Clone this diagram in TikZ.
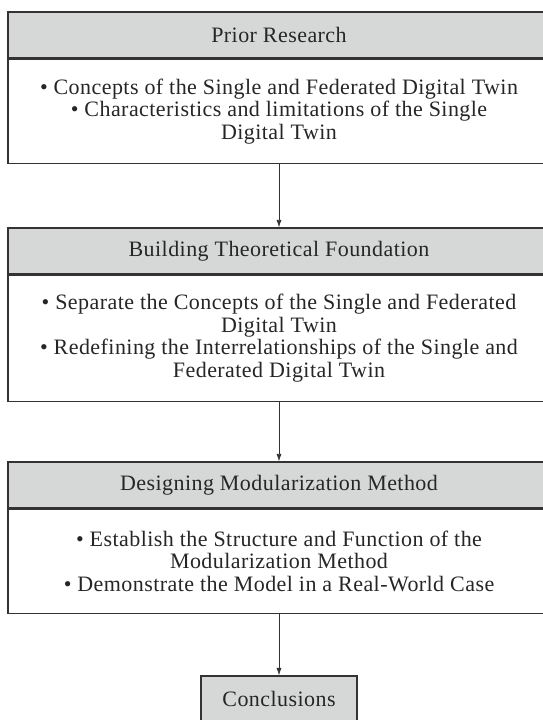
\documentclass[tikz,border=0pt]{standalone}
\usepackage{fontspec}
\setmainfont{Liberation Serif}[LetterSpace=2]
\usetikzlibrary{arrows.meta,positioning}
\definecolor{ink}{HTML}{262626}
\definecolor{frame}{HTML}{333333}
\definecolor{headFill}{HTML}{D6D8D8}
\tikzset{
  base/.style={font=\fontsize{22}{22.5}\selectfont, text=ink},
  head/.style={base, draw=frame, line width=1.3pt, fill=headFill, minimum width=542pt, minimum height=46pt, inner sep=0pt},
  body/.style={base, draw=frame, line width=1.3pt, fill=white, minimum width=542pt, align=center, inner sep=0pt},
  arrow/.style={-{Latex[length=2.6mm,width=1.8mm]}, line width=0.8pt, draw=frame},
}

\begin{document}
\begin{tikzpicture}[x=1pt,y=1pt]
  \useasboundingbox (0,0) rectangle (543,720);

  \node[head] (prior) at (279,685) {Prior Research};
  \node[body,minimum height=104pt,below=0pt of prior] (priorbody) {\textbullet\ Concepts of the Single and Federated Digital Twin\\\textbullet\ Characteristics and limitations of the Single\\Digital Twin};

  \node[head] (theory) at (279,469) {Building Theoretical Foundation};
  \node[body,minimum height=126pt,below=0pt of theory] (theorybody) {\textbullet\ Separate the Concepts of the Single and Federated\\Digital Twin\\\textbullet\ Redefining the Interrelationships of the Single and\\Federated Digital Twin};

  \node[head] (design) at (279,235) {Designing Modularization Method};
  \node[body,minimum height=104pt,below=0pt of design] (designbody) {\textbullet\ Establish the Structure and Function of the\\Modularization Method\\\textbullet\ Demonstrate the Model in a Real-World Case};

  \node[head,minimum width=156pt] (concl) at (279,21) {Conclusions};

  \draw[arrow] (priorbody.south) -- (theory.north);
  \draw[arrow] (theorybody.south) -- (design.north);
  \draw[arrow] (designbody.south) -- (concl.north);
\end{tikzpicture}
\end{document}
